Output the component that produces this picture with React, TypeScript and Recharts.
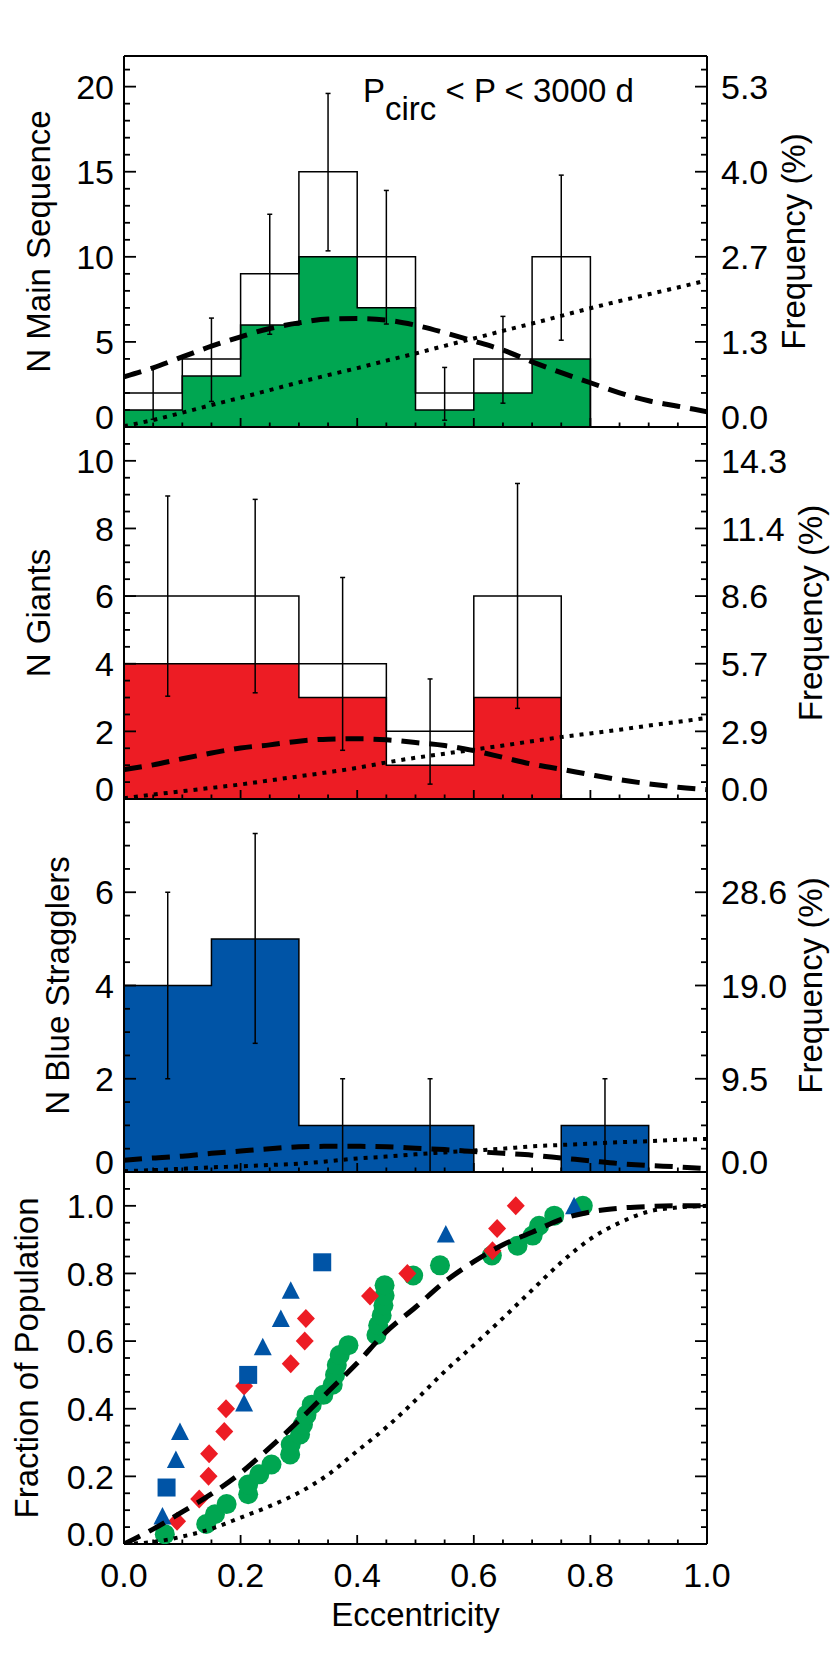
import React from "react";
import { ComposedChart, Area, Line, Scatter, XAxis, YAxis, ErrorBar } from "recharts";

const FONT = '"Liberation Sans", Arial, Helvetica, sans-serif';
const GREEN = "#00a651";
const RED = "#ed1c24";
const BLUE = "#0054a6";

const W = 830;
const H = 1661;

// eccentricity grid of the model curves
const curveE = [0, 0.05, 0.1, 0.15, 0.2, 0.25, 0.3, 0.35, 0.4, 0.45, 0.5, 0.55, 0.6, 0.65, 0.7, 0.75, 0.8, 0.85, 0.9, 0.95, 1.0];

// main sequence histogram (0.1 bins)
const msEdges = [0, 0.1, 0.2, 0.3, 0.4, 0.5, 0.6, 0.7, 0.8];
const msAll = [2, 4, 9, 15, 10, 2, 4, 10];
const msSel = [1, 3, 6, 10, 7, 1, 2, 4];
const msErrLo = [0.45, 1.5, 5.45, 10.35, 6.05, 0.4, 1.4, 5.1];
const msErrHi = [3.45, 6.4, 12.5, 19.6, 13.9, 3.5, 6.5, 14.8];
const msDash = [2.95, 3.48, 4.12, 4.75, 5.3, 5.79, 6.12, 6.34, 6.37, 6.28, 5.98, 5.54, 5.05, 4.52, 3.83, 3.19, 2.6, 2.01, 1.54, 1.22, 0.9];
const msDot = [0.05, 0.41, 0.84, 1.29, 1.72, 2.17, 2.62, 3.05, 3.46, 3.9, 4.32, 4.77, 5.2, 5.65, 6.08, 6.53, 6.98, 7.4, 7.8, 8.2, 8.62];

// giants histogram (0.15 bins)
const gEdges = [0, 0.15, 0.3, 0.45, 0.6, 0.75];
const gAll = [6, 6, 4, 2, 6];
const gSel = [4, 4, 3, 1, 3];
const gErrLo = [3.04, 3.14, 1.44, 0.44, 2.68];
const gErrHi = [8.96, 8.86, 6.55, 3.55, 9.33];
const gDash = [0.87, 1.01, 1.19, 1.36, 1.51, 1.6, 1.71, 1.77, 1.78, 1.75, 1.67, 1.58, 1.43, 1.23, 1.03, 0.88, 0.72, 0.57, 0.45, 0.35, 0.28];
const gDot = [0.02, 0.13, 0.23, 0.33, 0.43, 0.55, 0.67, 0.79, 0.92, 1.08, 1.22, 1.34, 1.46, 1.58, 1.71, 1.83, 1.94, 2.05, 2.17, 2.28, 2.4];

// blue stragglers histogram (0.15 bins)
const bsEdges = [0, 0.15, 0.3, 0.45, 0.6, 0.75, 0.9];
const bsAll = [4, 5, 1, 1, 0, 1];
const bsErrLo = [2, 2.76, 0, 0, null, 0];
const bsErrHi = [6, 7.26, 2, 2, null, 2];
const bsDash = [0.25, 0.3, 0.34, 0.4, 0.45, 0.5, 0.54, 0.55, 0.55, 0.54, 0.51, 0.48, 0.44, 0.4, 0.36, 0.3, 0.24, 0.18, 0.14, 0.11, 0.07];
const bsDot = [0.02, 0.04, 0.07, 0.1, 0.12, 0.15, 0.18, 0.23, 0.29, 0.33, 0.38, 0.42, 0.46, 0.5, 0.55, 0.58, 0.61, 0.64, 0.66, 0.69, 0.71];

// cumulative distributions
const cdfDash = [0, 0.044, 0.095, 0.148, 0.21, 0.285, 0.365, 0.45, 0.535, 0.628, 0.7, 0.775, 0.835, 0.885, 0.922, 0.96, 0.982, 0.993, 0.998, 1.0, 1.0];
const cdfDot = [0, 0.006, 0.022, 0.045, 0.078, 0.112, 0.152, 0.205, 0.275, 0.345, 0.425, 0.51, 0.588, 0.668, 0.751, 0.833, 0.902, 0.95, 0.983, 0.995, 1.0];

const msCdfE = [0.07, 0.141, 0.156, 0.176, 0.213, 0.213, 0.232, 0.253, 0.285, 0.286, 0.302, 0.307, 0.313, 0.322, 0.342, 0.358, 0.362, 0.365, 0.37, 0.385, 0.433, 0.436, 0.442, 0.445, 0.447, 0.447, 0.496, 0.542, 0.631, 0.675, 0.701, 0.712, 0.738, 0.787];
const msCdfF = [0.029, 0.059, 0.088, 0.118, 0.147, 0.176, 0.206, 0.235, 0.265, 0.294, 0.324, 0.353, 0.382, 0.412, 0.441, 0.471, 0.5, 0.529, 0.559, 0.588, 0.618, 0.647, 0.676, 0.706, 0.735, 0.765, 0.794, 0.824, 0.853, 0.882, 0.912, 0.941, 0.971, 1.0];
const gCdfE = [0.091, 0.129, 0.145, 0.146, 0.172, 0.175, 0.206, 0.286, 0.31, 0.312, 0.422, 0.486, 0.632, 0.64, 0.672];
const gCdfF = [0.067, 0.133, 0.2, 0.267, 0.333, 0.4, 0.467, 0.533, 0.6, 0.667, 0.733, 0.8, 0.867, 0.933, 1.0];
const bsTriE = [0.066, 0.089, 0.096, 0.206, 0.238, 0.269, 0.286, 0.552, 0.772];
const bsTriF = [0.083, 0.25, 0.333, 0.417, 0.583, 0.667, 0.75, 0.917, 1.0];
const bsSqE = [0.073, 0.213, 0.34];
const bsSqF = [0.167, 0.5, 0.833];

// tick labels
const eccMajor = [0, 0.2, 0.4, 0.6, 0.8, 1.0];
const eccLabels = ["0.0", "0.2", "0.4", "0.6", "0.8", "1.0"];
const msTicks = [0, 5, 10, 15, 20];
const msLeft = ["0", "5", "10", "15", "20"];
const msRight = ["0.0", "1.3", "2.7", "4.0", "5.3"];
const gTicks = [0, 2, 4, 6, 8, 10];
const gLeft = ["0", "2", "4", "6", "8", "10"];
const gRight = ["0.0", "2.9", "5.7", "8.6", "11.4", "14.3"];
const bsTicks = [0, 2, 4, 6];
const bsLeft = ["0", "2", "4", "6"];
const bsRight = ["0.0", "9.5", "19.0", "28.6"];
const cdfTicks = [0, 0.2, 0.4, 0.6, 0.8, 1.0];
const cdfLeft = ["0.0", "0.2", "0.4", "0.6", "0.8", "1.0"];

const steps = (max: number, step: number) => {
  const out: number[] = [];
  for (let i = 0; i * step <= max + 1e-9; i++) out.push(Math.round(i * step * 1000) / 1000);
  return out;
};
const eccMinor = steps(1, 0.05);

const idxOf = (v: number, arr: number[]) => arr.findIndex((m) => Math.abs(m - v) < 1e-6);

// histogram outline as a step series on the bin edges, closed down to zero
const toSteps = (edges: number[], all: number[], sel: number[] | null) => {
  const pts = edges.map((e, i) => ({
    e,
    all: i < all.length ? all[i] : 0,
    sub: i < all.length ? (sel ? sel[i] : all[i]) : 0,
  }));
  if (edges[edges.length - 1] < 1) pts.push({ e: 1, all: 0, sub: 0 });
  return pts;
};
// error bars sit in the bin centres
const toErrors = (edges: number[], all: number[], lo: (number | null)[], hi: (number | null)[]) =>
  all
    .map((t, i) => ({
      e: (edges[i] + edges[i + 1]) / 2,
      t,
      err: lo[i] == null ? null : [t - (lo[i] as number), (hi[i] as number) - t],
    }))
    .filter((d) => d.err != null);
const toCurve = (ys: number[], key: string) => curveE.map((e, i) => ({ e, [key]: ys[i] }));
const toPoints = (es: number[], fs: number[]) => es.map((e, i) => ({ e, f: fs[i] }));

const AXIS_LINE = { stroke: "#000", strokeWidth: 2 };
const TICK_W = 1.8;

const yTick = (side: "left" | "right", majors: number[], labels: string[] | null) => (props: any) => {
  const { x, y, payload } = props;
  const v = payload.value;
  const k = idxOf(v, majors);
  const len = k >= 0 ? 12 : 6;
  const dir = side === "left" ? 1 : -1;
  const lift = Math.abs(v) < 1e-9 ? -10 : 0;
  return (
    <g>
      <line x1={x} y1={y} x2={x + dir * len} y2={y} stroke="#000" strokeWidth={TICK_W} />
      {k >= 0 && labels ? (
        <text
          x={side === "left" ? x - 10 : x + 14}
          y={y + lift}
          dy="0.36em"
          textAnchor={side === "left" ? "end" : "start"}
          fontSize={34}
          fontFamily={FONT}
          fill="#000"
        >
          {labels[k]}
        </text>
      ) : null}
    </g>
  );
};

const xTick = (side: "top" | "bottom", withLabels: boolean) => (props: any) => {
  const { x, y, payload } = props;
  const k = idxOf(payload.value, eccMajor);
  const len = k >= 0 ? 9 : 4.5;
  const dir = side === "bottom" ? -1 : 1;
  return (
    <g>
      <line x1={x} y1={y} x2={x} y2={y + dir * len} stroke="#000" strokeWidth={TICK_W} />
      {withLabels && k >= 0 ? (
        <text x={x} y={y + 31} dy="0.36em" textAnchor="middle" fontSize={34} fontFamily={FONT} fill="#000">
          {eccLabels[k]}
        </text>
      ) : null}
    </g>
  );
};

const VTitle = ({ x, y, text }: { x: number; y: number; text: string }) => (
  <text x={x} y={y} transform={`rotate(-90 ${x} ${y})`} textAnchor="middle" fontSize={33} fontFamily={FONT} fill="#000">
    {text}
  </text>
);

type PanelCfg = {
  top: number;
  bottom: number;
  yMax: number;
  yMajor: number[];
  yMinorStep: number;
  leftLabels: string[];
  rightLabels?: string[];
  yTitle: string;
  yTitleX: number;
  rightTitleX?: number;
  xLabels?: boolean;
  topText?: React.ReactNode;
};

const Panel = ({ cfg, children }: { cfg: PanelCfg; children?: React.ReactNode }) => {
  const cy = (cfg.top + cfg.bottom) / 2;
  const yMinor = steps(cfg.yMax, cfg.yMinorStep);
  return (
    <div style={{ position: "absolute", left: 0, top: 0 }}>
      <ComposedChart
        width={W}
        height={H}
        margin={{ top: cfg.top - 1, bottom: H - cfg.bottom - 1, left: 0, right: 0 }}
      >
        <XAxis
          xAxisId="x"
          dataKey="e"
          type="number"
          domain={[0, 1]}
          allowDataOverflow
          ticks={eccMinor}
          interval={0}
          height={1}
          tickSize={0}
          tickMargin={0}
          tickLine={false}
          axisLine={AXIS_LINE}
          tick={xTick("bottom", !!cfg.xLabels)}
          label={
            cfg.xLabels
              ? {
                  content: () => (
                    <text x={415.5} y={cfg.bottom + 82} textAnchor="middle" fontSize={33} fontFamily={FONT} fill="#000">
                      Eccentricity
                    </text>
                  ),
                }
              : undefined
          }
        />
        <XAxis
          xAxisId="top"
          orientation="top"
          type="number"
          domain={[0, 1]}
          allowDataOverflow
          ticks={eccMinor}
          interval={0}
          height={1}
          tickSize={0}
          tickMargin={0}
          tickLine={false}
          axisLine={AXIS_LINE}
          tick={xTick("top", false)}
          label={cfg.topText ? { content: () => cfg.topText } : undefined}
        />
        <YAxis
          yAxisId="l"
          type="number"
          domain={[0, cfg.yMax]}
          allowDataOverflow
          ticks={yMinor}
          interval={0}
          width={124}
          tickSize={0}
          tickMargin={0}
          tickLine={false}
          axisLine={AXIS_LINE}
          tick={yTick("left", cfg.yMajor, cfg.leftLabels)}
          label={{ content: () => <VTitle x={cfg.yTitleX} y={cy} text={cfg.yTitle} /> }}
        />
        <YAxis
          yAxisId="r"
          orientation="right"
          type="number"
          domain={[0, cfg.yMax]}
          allowDataOverflow
          ticks={yMinor}
          interval={0}
          width={123}
          tickSize={0}
          tickMargin={0}
          tickLine={false}
          axisLine={AXIS_LINE}
          tick={yTick("right", cfg.yMajor, cfg.rightLabels || null)}
          label={
            cfg.rightTitleX
              ? { content: () => <VTitle x={cfg.rightTitleX as number} y={cy} text="Frequency (%)" /> }
              : undefined
          }
        />
        {children}
      </ComposedChart>
    </div>
  );
};

const curveLines = (dash: number[], dot: number[], key: string) => [
  <Line
    key={key + "-dash"}
    xAxisId="x"
    yAxisId="l"
    data={toCurve(dash, "v")}
    dataKey="v"
    type="monotone"
    dot={false}
    activeDot={false}
    stroke="#000"
    strokeWidth={5}
    strokeDasharray="18 10"
    isAnimationActive={false}
    zIndex={700}
  />,
  <Line
    key={key + "-dot"}
    xAxisId="x"
    yAxisId="l"
    data={toCurve(dot, "v")}
    dataKey="v"
    type="monotone"
    dot={false}
    activeDot={false}
    stroke="#000"
    strokeWidth={4}
    strokeDasharray="4 6"
    isAnimationActive={false}
    zIndex={700}
  />,
];

const noMark = () => <g />;

const histogram = (
  key: string,
  fill: string,
  edges: number[],
  all: number[],
  sel: number[] | null,
  lo: (number | null)[],
  hi: (number | null)[]
) => {
  const stepData = toSteps(edges, all, sel);
  const items = [
    <Area
      key={key + "-fill"}
      xAxisId="x"
      yAxisId="l"
      data={stepData}
      dataKey="sub"
      type="stepAfter"
      fill={fill}
      fillOpacity={1}
      stroke="#000"
      strokeWidth={1.5}
      dot={false}
      activeDot={false}
      isAnimationActive={false}
    />,
  ];
  if (sel) {
    items.push(
      <Line
        key={key + "-all"}
        xAxisId="x"
        yAxisId="l"
        data={stepData}
        dataKey="all"
        type="stepAfter"
        stroke="#000"
        strokeWidth={1.5}
        dot={false}
        activeDot={false}
        isAnimationActive={false}
      />
    );
  }
  items.push(
    <Scatter
      key={key + "-err"}
      xAxisId="x"
      yAxisId="l"
      data={toErrors(edges, all, lo, hi)}
      dataKey="t"
      shape={noMark}
      isAnimationActive={false}
    >
      <ErrorBar dataKey="err" direction="y" width={2.5} stroke="#000" strokeWidth={1.5} />
    </Scatter>
  );
  return items;
};

const periodText = (
  <text x={363} y={102} fontSize={33} fontFamily={FONT} fill="#000">
    P<tspan dy={18}>circ</tspan>
    <tspan dy={-18}>{" < P < 3000 d"}</tspan>
  </text>
);

const circleShape = (p: any) => <circle cx={p.cx} cy={p.cy} r={10} fill={GREEN} />;
const diamondShape = (p: any) => (
  <polygon
    points={`${p.cx},${p.cy - 9.5} ${p.cx + 9},${p.cy} ${p.cx},${p.cy + 9.5} ${p.cx - 9},${p.cy}`}
    fill={RED}
  />
);
const triangleShape = (p: any) => (
  <polygon
    points={`${p.cx},${p.cy - 9} ${p.cx + 9},${p.cy + 8.5} ${p.cx - 9},${p.cy + 8.5}`}
    fill={BLUE}
  />
);
const squareShape = (p: any) => <rect x={p.cx - 9} y={p.cy - 9} width={18} height={18} fill={BLUE} />;

export default function App() {
  return (
    <div
      style={{
        position: "absolute",
        left: 0,
        top: 0,
        width: W,
        height: H,
        background: "#fff",
        fontFamily: FONT,
      }}
    >
      <Panel
        cfg={{
          top: 56,
          bottom: 427,
          yMax: 21.8,
          yMajor: msTicks,
          yMinorStep: 1,
          leftLabels: msLeft,
          rightLabels: msRight,
          yTitle: "N Main Sequence",
          yTitleX: 50,
          rightTitleX: 805,
          topText: periodText,
        }}
      >
        {histogram("ms", GREEN, msEdges, msAll, msSel, msErrLo, msErrHi)}
        {curveLines(msDash, msDot, "ms")}
      </Panel>
      <Panel
        cfg={{
          top: 427,
          bottom: 799,
          yMax: 11,
          yMajor: gTicks,
          yMinorStep: 0.5,
          leftLabels: gLeft,
          rightLabels: gRight,
          yTitle: "N Giants",
          yTitleX: 50,
          rightTitleX: 822,
        }}
      >
        {histogram("g", RED, gEdges, gAll, gSel, gErrLo, gErrHi)}
        {curveLines(gDash, gDot, "g")}
      </Panel>
      <Panel
        cfg={{
          top: 799,
          bottom: 1172,
          yMax: 8,
          yMajor: bsTicks,
          yMinorStep: 0.5,
          leftLabels: bsLeft,
          rightLabels: bsRight,
          yTitle: "N Blue Stragglers",
          yTitleX: 69,
          rightTitleX: 822,
        }}
      >
        {histogram("bs", BLUE, bsEdges, bsAll, null, bsErrLo, bsErrHi)}
        {curveLines(bsDash, bsDot, "bs")}
      </Panel>
      <Panel
        cfg={{
          top: 1172,
          bottom: 1544,
          yMax: 1.1,
          yMajor: cdfTicks,
          yMinorStep: 0.05,
          leftLabels: cdfLeft,
          yTitle: "Fraction of Population",
          yTitleX: 38,
          xLabels: true,
        }}
      >
        <Scatter xAxisId="x" yAxisId="l" data={toPoints(msCdfE, msCdfF)} dataKey="f" shape={circleShape} isAnimationActive={false} />
        <Scatter xAxisId="x" yAxisId="l" data={toPoints(gCdfE, gCdfF)} dataKey="f" shape={diamondShape} isAnimationActive={false} />
        <Scatter xAxisId="x" yAxisId="l" data={toPoints(bsTriE, bsTriF)} dataKey="f" shape={triangleShape} isAnimationActive={false} />
        <Scatter xAxisId="x" yAxisId="l" data={toPoints(bsSqE, bsSqF)} dataKey="f" shape={squareShape} isAnimationActive={false} />
        {curveLines(cdfDash, cdfDot, "cdf")}
      </Panel>
    </div>
  );
}
